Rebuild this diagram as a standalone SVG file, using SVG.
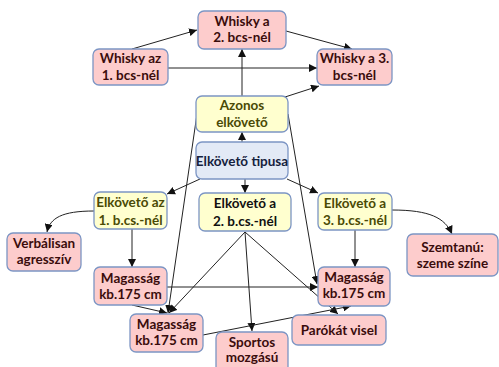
<svg xmlns="http://www.w3.org/2000/svg" width="499" height="367" viewBox="0 0 499 367">
<style>
.n rect{stroke:#7c95c4;stroke-width:1.3}
.p{fill:#fdcccc}
.y{fill:#ffffcf}
.b{fill:#e3eaf6}
text{font-family:Lato,"Liberation Sans",sans-serif;font-weight:bold;font-size:13.5px;text-anchor:middle}
.tp{fill:#3a0c0c}
.ty{fill:#4a4a05}
.tk{fill:#111}
.tb{fill:#14213d}
#edges path,#edges line{stroke:#222;stroke-width:1;fill:none}
</style>
<defs>
<marker id="ah" viewBox="0 0 10 10" refX="10" refY="5" markerWidth="8" markerHeight="8" markerUnits="userSpaceOnUse" orient="auto">
<path d="M0,0L10,5L0,10z" fill="#111"/>
</marker>
</defs>
<rect width="499" height="367" fill="#fff"/>
<g id="edges">
<line x1="132" y1="49" x2="197" y2="30" marker-end="url(#ah)"/>
<line x1="286" y1="31" x2="352" y2="49" marker-end="url(#ah)"/>
<line x1="168" y1="68" x2="317" y2="68" marker-end="url(#ah)"/>
<line x1="242" y1="96" x2="242" y2="49" marker-end="url(#ah)"/>
<line x1="285" y1="97" x2="319" y2="86" marker-end="url(#ah)"/>
<line x1="242" y1="142" x2="242" y2="132" marker-end="url(#ah)"/>
<line x1="200" y1="179" x2="167" y2="194" marker-end="url(#ah)"/>
<line x1="245" y1="179" x2="245" y2="193" marker-end="url(#ah)"/>
<line x1="287" y1="179" x2="318" y2="193" marker-end="url(#ah)"/>
<path d="M94,211 C62,211 50,218 47,232" marker-end="url(#ah)"/>
<line x1="132" y1="229" x2="132" y2="267" marker-end="url(#ah)"/>
<line x1="132" y1="305" x2="167" y2="313" marker-end="url(#ah)"/>
<line x1="167" y1="287" x2="318" y2="287" marker-end="url(#ah)"/>
<line x1="245" y1="232" x2="169" y2="313" marker-end="url(#ah)"/>
<line x1="245" y1="232" x2="252" y2="331" marker-end="url(#ah)"/>
<line x1="245" y1="232" x2="338" y2="314" marker-end="url(#ah)"/>
<line x1="355" y1="230" x2="355" y2="267" marker-end="url(#ah)"/>
<path d="M392,210 C430,210 445,218 452,234" marker-end="url(#ah)"/>
<line x1="203" y1="335" x2="351" y2="306" marker-end="url(#ah)"/>
<line x1="197" y1="114" x2="168" y2="313" marker-end="url(#ah)"/>
<line x1="288" y1="114" x2="317" y2="284" marker-end="url(#ah)"/>
</g>
<g id="w2" class="n"><rect class="p" x="198" y="11" width="88" height="38" rx="6"/><text class="tp" x="242" y="26">Whisky a</text><text class="tp" x="242" y="42">2. bcs-nél</text></g>
<g id="w1" class="n"><rect class="p" x="93" y="49" width="75" height="36" rx="6"/><text class="tp" x="130.5" y="63">Whisky az</text><text class="tp" x="130.5" y="80">1. bcs-nél</text></g>
<g id="w3" class="n"><rect class="p" x="317" y="49" width="75" height="36" rx="6"/><text class="tp" x="354.5" y="63">Whisky a 3.</text><text class="tp" x="354.5" y="80">bcs-nél</text></g>
<g id="azonos" class="n"><rect class="y" x="196" y="96" width="92" height="36" rx="6"/><text class="ty" x="242" y="110">Azonos</text><text class="ty" x="242" y="127">elkövető</text></g>
<g id="tipusa" class="n"><rect class="b" x="196" y="142" width="92" height="37" rx="6"/><text class="tb" x="242" y="166">Elkövető tipusa</text></g>
<g id="e1" class="n"><rect class="y" x="94" y="192" width="73" height="37" rx="6"/><text class="ty" x="130.5" y="207">Elkövető az</text><text class="ty" x="130.5" y="225">1. b.cs.-nél</text></g>
<g id="e2" class="n"><rect class="y" x="199" y="193" width="92" height="38" rx="6"/><text class="tk" x="245" y="208">Elkövető a</text><text class="tk" x="245" y="226">2. b.cs.-nél</text></g>
<g id="e3" class="n"><rect class="y" x="318" y="193" width="74" height="37" rx="6"/><text class="ty" x="355" y="208">Elkövető a</text><text class="ty" x="355" y="225">3. b.cs.-nél</text></g>
<g id="verb" class="n"><rect class="p" x="7" y="233" width="74" height="38" rx="6"/><text class="tp" x="44" y="248">Verbálisan</text><text class="tp" x="44" y="264">agresszív</text></g>
<g id="szem" class="n"><rect class="p" x="407" y="234" width="91" height="42" rx="6"/><text class="tp" x="452.5" y="252">Szemtanú:</text><text class="tp" x="452.5" y="268">szeme színe</text></g>
<g id="m1" class="n"><rect class="p" x="94" y="267" width="73" height="38" rx="6"/><text class="tp" x="130.5" y="283">Magasság</text><text class="tp" x="130.5" y="299">kb.175 cm</text></g>
<g id="m2" class="n"><rect class="p" x="130" y="314" width="73" height="38" rx="6"/><text class="tp" x="166.5" y="329">Magasság</text><text class="tp" x="166.5" y="345">kb.175 cm</text></g>
<g id="m3" class="n"><rect class="p" x="318" y="267" width="72" height="39" rx="6"/><text class="tp" x="354" y="282">Magasság</text><text class="tp" x="354" y="298">kb.175 cm</text></g>
<g id="parokat" class="n"><rect class="p" x="292" y="315" width="94" height="30" rx="6"/><text class="tp" x="339" y="335">Parókát visel</text></g>
<g id="sportos" class="n"><rect class="p" x="216" y="332" width="72" height="42" rx="6"/><text class="tp" x="252" y="347">Sportos</text><text class="tp" x="252" y="362">mozgású</text></g>
</svg>
